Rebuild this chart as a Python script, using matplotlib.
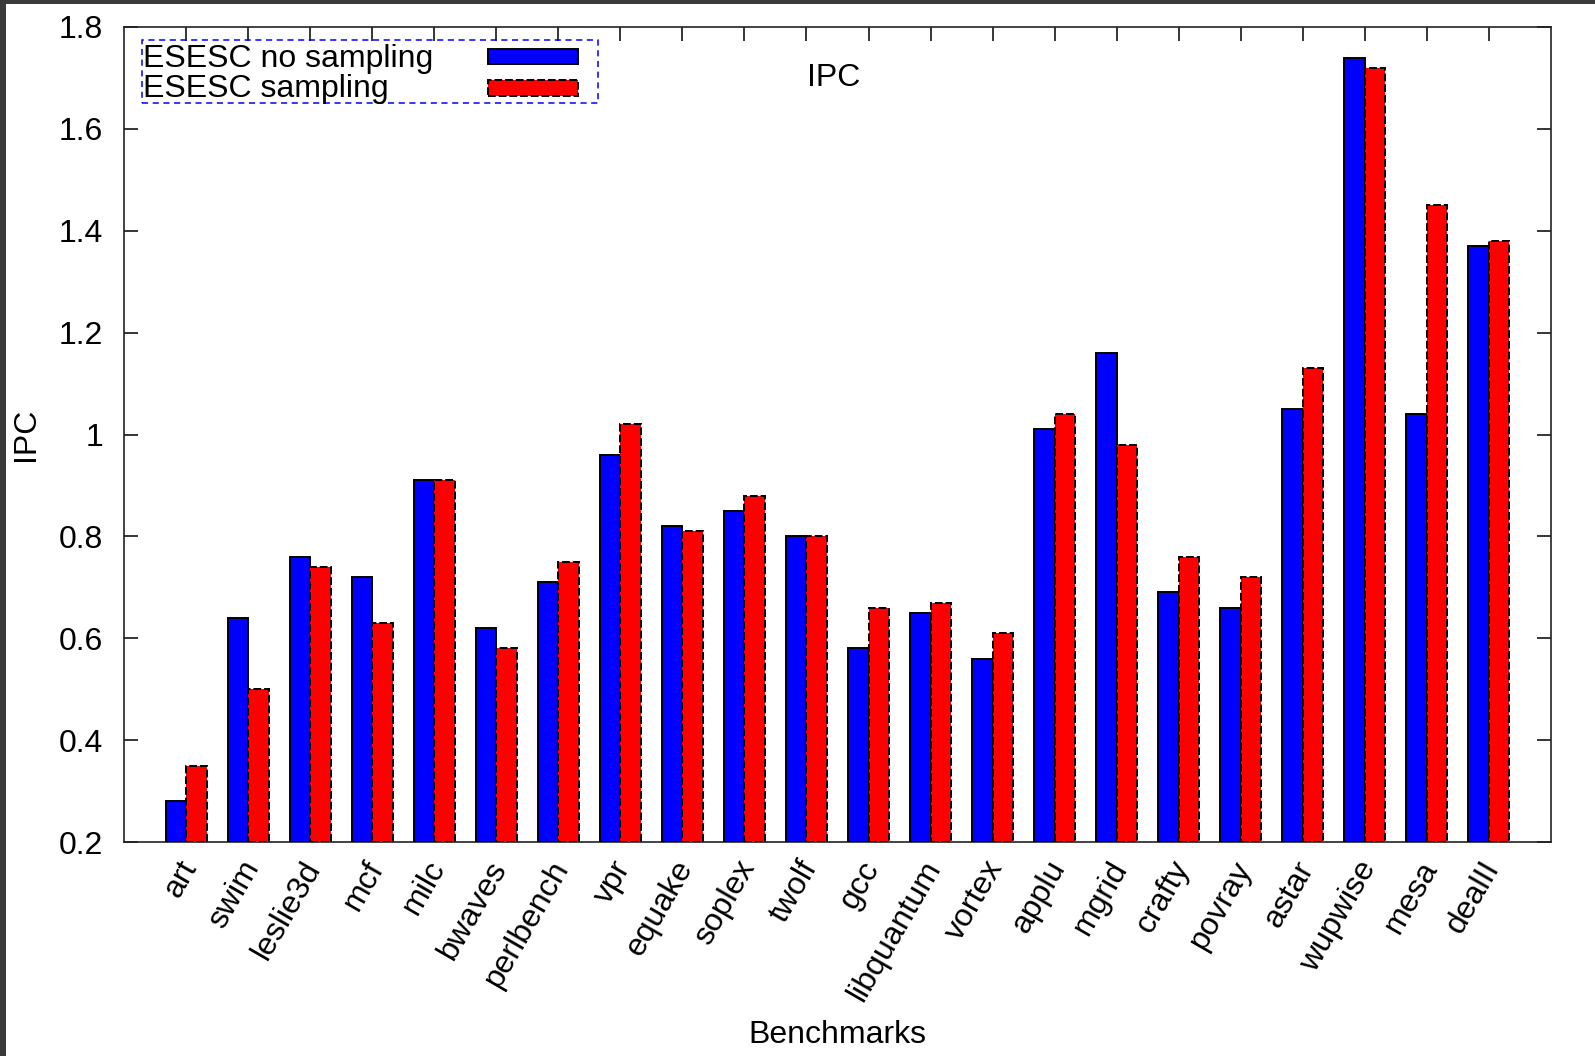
import matplotlib
matplotlib.use("Agg")
import matplotlib.pyplot as plt
from matplotlib.patches import Rectangle
import numpy as np

benchmarks = ["art", "swim", "leslie3d", "mcf", "milc", "bwaves", "perlbench",
              "vpr", "equake", "soplex", "twolf", "gcc", "libquantum", "vortex",
              "applu", "mgrid", "crafty", "povray", "astar", "wupwise", "mesa",
              "dealII"]
no_sampling = [0.28, 0.64, 0.76, 0.72, 0.91, 0.62, 0.71, 0.96, 0.82, 0.85, 0.80,
               0.58, 0.65, 0.56, 1.01, 1.16, 0.69, 0.66, 1.05, 1.74, 1.04, 1.37]
sampling = [0.35, 0.50, 0.74, 0.63, 0.91, 0.58, 0.75, 1.02, 0.81, 0.88, 0.80,
            0.66, 0.67, 0.61, 1.04, 0.98, 0.76, 0.72, 1.13, 1.72, 1.45, 1.38]
series_labels = ["ESESC no sampling", "ESESC sampling"]
yticks = [0.2, 0.4, 0.6, 0.8, 1.0, 1.2, 1.4, 1.6, 1.8]
ytick_labels = ["0.2", "0.4", "0.6", "0.8", "1", "1.2", "1.4", "1.6", "1.8"]

plt.rcParams["font.family"] = ["Liberation Sans", "DejaVu Sans"]
fs = 23

fig = plt.figure(figsize=(15.95, 10.56), dpi=100)
ax = fig.add_axes([124/1595, 214/1056, 1427/1595, 815/1056])

x = np.arange(1, len(benchmarks) + 1)
w = 0.33
ax.bar(x - w/2, np.array(no_sampling) - 0.2, w, bottom=0.2, color="#0000ff",
       edgecolor="black", linewidth=1.4, zorder=3)
ax.bar(x + w/2, np.array(sampling) - 0.2, w, bottom=0.2, color="#ff0000",
       edgecolor="black", linewidth=1.4, linestyle=(0, (4, 1.5)), zorder=3)

ax.set_xlim(0, len(benchmarks) + 1)
ax.set_ylim(0.2, 1.8)
ax.set_yticks(yticks)
ax.set_yticklabels(ytick_labels, fontsize=fs)
# major ticks mark the categories, labels sit on shifted minor ticks
ax.set_xticks(x)
ax.set_xticklabels([])
ax.set_xticks(x + 0.18, minor=True)
ax.set_xticklabels(benchmarks, minor=True, fontsize=fs, rotation=60, ha="right",
                   va="baseline", rotation_mode="anchor")

ax.tick_params(axis="both", direction="in", length=10, width=1.1,
               top=True, right=True)
ax.tick_params(axis="y", pad=15)
ax.tick_params(axis="x", which="minor", length=0, top=False, pad=18)
for s in ax.spines.values():
    s.set_linewidth(1.2)
    s.set_color("#222222")

ax.set_ylabel("IPC", fontsize=fs, labelpad=13)
ax.set_xlabel("Benchmarks", fontsize=fs)
ax.xaxis.set_label_coords(0.5, -0.219)
ax.text(0.497, 0.937, "IPC", transform=ax.transAxes, fontsize=fs,
        ha="center", va="center")

# key box, text left and samples right like gnuplot
ax.add_patch(Rectangle((0.0126, 0.907), 0.3195, 0.077, transform=ax.transAxes,
                       fill=False, edgecolor="#0000ff", linewidth=1.1,
                       linestyle=(0, (4, 3)), zorder=5))
ax.text(0.0135, 0.961, series_labels[0], transform=ax.transAxes, fontsize=fs,
        ha="left", va="center", zorder=6)
ax.text(0.0135, 0.924, series_labels[1], transform=ax.transAxes, fontsize=fs,
        ha="left", va="center", zorder=6)
ax.add_patch(Rectangle((0.255, 0.954), 0.063, 0.019, transform=ax.transAxes,
                       facecolor="#0000ff", edgecolor="black", linewidth=1.4, zorder=6))
ax.add_patch(Rectangle((0.255, 0.915), 0.063, 0.020, transform=ax.transAxes,
                       facecolor="#ff0000", edgecolor="black", linewidth=1.4,
                       linestyle=(0, (4, 1.5)), zorder=6))

# dark screenshot frame on the left and top
fig.patches.append(Rectangle((0, 0), 6/1595, 1, transform=fig.transFigure,
                             facecolor="#3a3a3a", edgecolor="none"))
fig.patches.append(Rectangle((0, 1 - 4/1056), 1, 4/1056, transform=fig.transFigure,
                             facecolor="#3a3a3a", edgecolor="none"))

fig.savefig("out.png", dpi=100)
